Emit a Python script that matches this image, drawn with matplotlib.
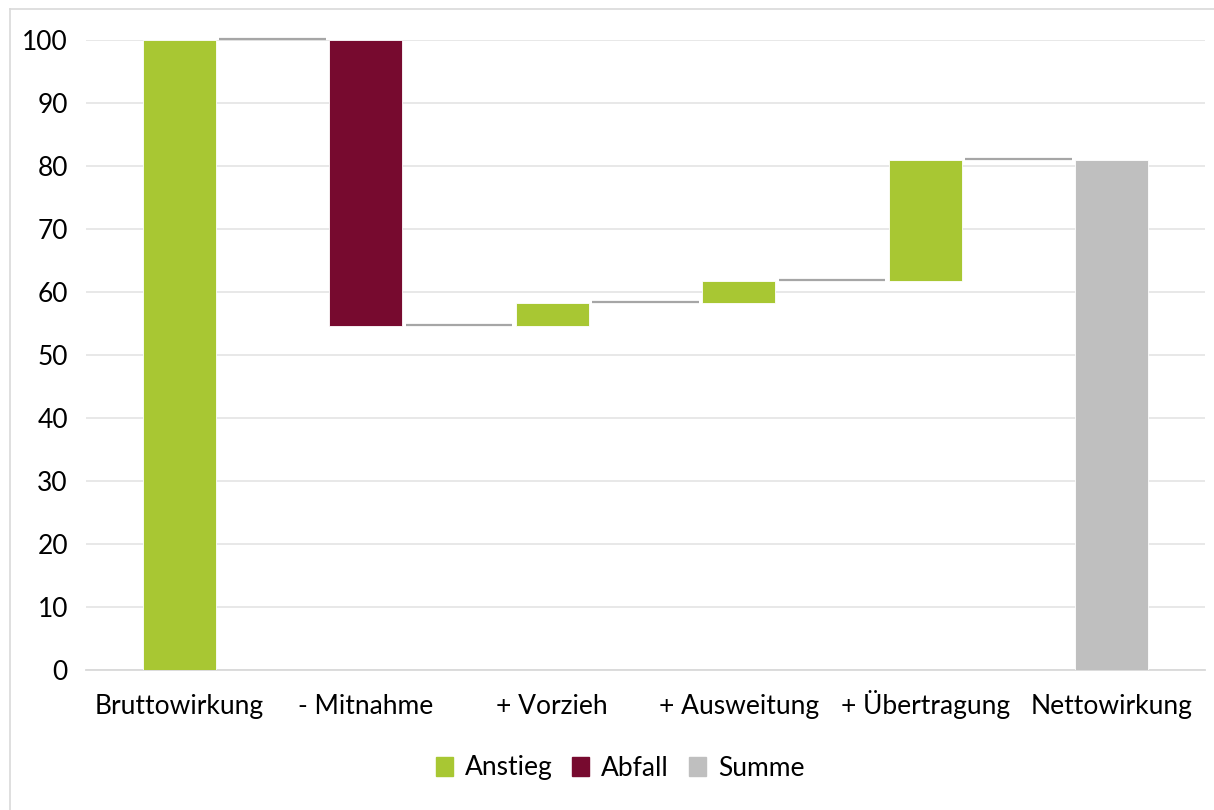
import matplotlib
matplotlib.use("Agg")
import matplotlib.pyplot as plt
from matplotlib.lines import Line2D
from matplotlib.patches import Patch

plt.rcParams['font.family'] = ['Lato', 'DejaVu Sans']

categories = ["Bruttowirkung", "- Mitnahme", "+ Vorzieh", "+ Ausweitung", "+ Übertragung", "Nettowirkung"]
changes = [100.0, -45.4, 3.6, 3.5, 19.3]
yticks = [0, 10, 20, 30, 40, 50, 60, 70, 80, 90, 100]

c_up = "#a8c733"
c_down = "#770a2f"
c_sum = "#bfbfbf"

FS = 19

fig = plt.figure(figsize=(12.14, 8.10), dpi=100)
ax = fig.add_axes([86/1214, 1-670/810, (1205-86)/1214, (670-40)/810])

width = 0.39
level = 0.0
ends = []
for i, ch in enumerate(changes):
    start = level
    level = level + ch
    bottom = min(start, level)
    color = c_up if ch >= 0 else c_down
    ax.bar(i, abs(ch), bottom=bottom, width=width, color=color, edgecolor="white", linewidth=0.6, zorder=3)
    ends.append(level)
ax.bar(len(changes), level, width=width, color=c_sum, edgecolor="white", linewidth=0.6, zorder=3)

# connector lines
for i, e in enumerate(ends):
    ax.plot([i + width/2 + 0.02, i + 1 - width/2 - 0.02], [e + 0.15, e + 0.15], color="#a6a6a6",
            linewidth=1.6, zorder=2, clip_on=False, solid_capstyle="butt")

ax.set_xlim(-0.5, len(categories) - 0.5)
ax.set_ylim(0, 100)
ax.set_yticks(yticks)
ax.set_xticks(range(len(categories)))
ax.set_xticklabels(categories, fontsize=FS, color="#000000")
for lab in ax.get_xticklabels():
    lab.set_va("baseline")
ax.tick_params(axis="y", labelsize=FS, length=0, pad=13)
ax.tick_params(axis="x", length=0, pad=32)
ax.grid(axis="y", color="#e6e6e6", linewidth=1.3, zorder=0)
ax.set_axisbelow(True)
for s in ["top", "right", "left"]:
    ax.spines[s].set_visible(False)
ax.spines["bottom"].set_color("#d9d9d9")
ax.spines["bottom"].set_linewidth(1.3)

handles = [Patch(color=c_up, label="Anstieg"), Patch(color=c_down, label="Abfall"), Patch(color=c_sum, label="Summe")]
fig.legend(handles=handles, loc="center", bbox_to_anchor=(620/1214, 1-768/810), ncol=3, frameon=False,
           fontsize=FS, handlelength=0.65, handleheight=0.75, handletextpad=0.45, columnspacing=0.75)

# outer chart border
fig.add_artist(Line2D([10/1214, 10/1214], [0, 1-9/810], color="#d9d9d9", linewidth=1.2, transform=fig.transFigure))
fig.add_artist(Line2D([10/1214, 1], [1-9/810, 1-9/810], color="#d9d9d9", linewidth=1.2, transform=fig.transFigure))

fig.savefig("out.png", dpi=100)
